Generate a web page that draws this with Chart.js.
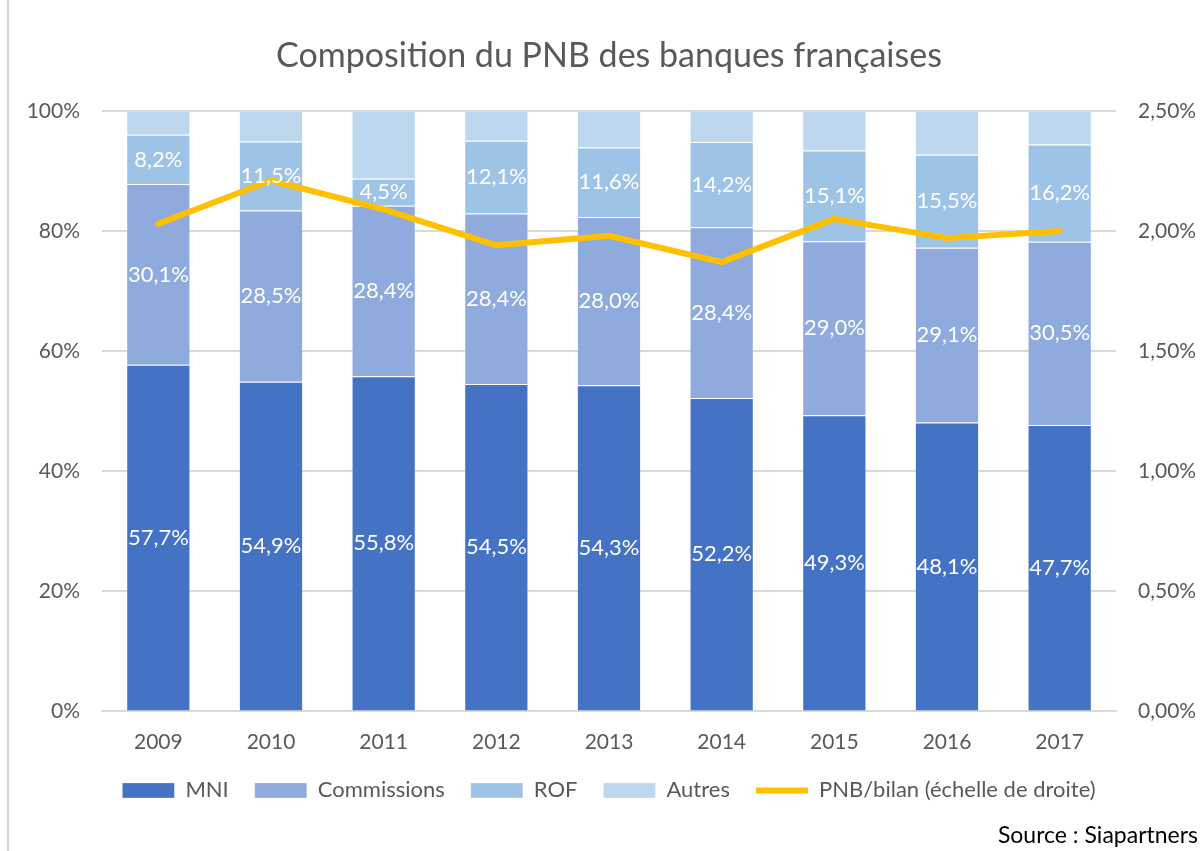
<!DOCTYPE html>
<html>
<head>
<meta charset="utf-8">
<script src="https://cdn.jsdelivr.net/npm/chart.js@4"></script>
<style>
  html, body { margin: 0; padding: 0; background: #fff; }
  #wrap { width: 1202px; height: 851px; position: relative; }
</style>
</head>
<body>
<div id="wrap"><canvas id="pnbChart"></canvas></div>
<script>
const years = ['2009', '2010', '2011', '2012', '2013', '2014', '2015', '2016', '2017'];
const mni = [57.7, 54.9, 55.8, 54.5, 54.3, 52.2, 49.3, 48.1, 47.7];
const commissions = [30.1, 28.5, 28.4, 28.4, 28.0, 28.4, 29.0, 29.1, 30.5];
const rof = [8.2, 11.5, 4.5, 12.1, 11.6, 14.2, 15.1, 15.5, 16.2];
const autres = [4.0, 5.1, 11.3, 5.0, 6.1, 5.2, 6.6, 7.3, 5.6];
const pnbBilan = [2.03, 2.21, 2.09, 1.94, 1.98, 1.87, 2.05, 1.97, 2.00];

const FONT = 'Lato, "Noto Sans", sans-serif';
const GREY = '#595959';

function frWithComma(v, digits) {
    return v.toFixed(digits).replace('.', ',') + '%';
}

// data labels in the middle of the first three bar segments
const segmentLabels = {
    id: 'segmentLabels',
    afterDatasetsDraw(chart) {
        const ctx = chart.ctx;
        ctx.save();
        ctx.font = '22px ' + FONT;
        ctx.fillStyle = '#ffffff';
        ctx.textAlign = 'center';
        ctx.textBaseline = 'middle';
        [0, 1, 2].forEach(function (di) {
            const meta = chart.getDatasetMeta(di);
            const values = chart.data.datasets[di].data;
            meta.data.forEach(function (bar, i) {
                const mid = (bar.y + bar.base) / 2;
                ctx.fillText(frWithComma(values[i], 1), bar.x, mid);
            });
        });
        ctx.restore();
    }
};

// thin grey frame line on the left edge
const frameLine = {
    id: 'frameLine',
    beforeDraw(chart) {
        const ctx = chart.ctx;
        ctx.save();
        ctx.strokeStyle = '#D9D9D9';
        ctx.lineWidth = 2;
        ctx.beginPath();
        ctx.moveTo(8, 0);
        ctx.lineTo(8, chart.height);
        ctx.stroke();
        ctx.restore();
    }
};

const pnbCtx = document.getElementById('pnbChart').getContext('2d');
const pnbChart = new Chart(pnbCtx, {
    type: 'bar',
    data: {
        labels: years,
        datasets: [
            { label: 'MNI', data: mni, backgroundColor: '#4472C4', yAxisID: 'y', order: 1, pointStyle: 'rect' },
            { label: 'Commissions', data: commissions, backgroundColor: '#8FAADC', yAxisID: 'y', order: 1, pointStyle: 'rect' },
            { label: 'ROF', data: rof, backgroundColor: '#9DC3E6', yAxisID: 'y', order: 1, pointStyle: 'rect' },
            { label: 'Autres', data: autres, backgroundColor: '#BDD7EE', yAxisID: 'y', order: 1, pointStyle: 'rect' },
            {
                type: 'line',
                label: 'PNB/bilan (échelle de droite)',
                data: pnbBilan,
                borderColor: '#FFC000',
                backgroundColor: '#FFC000',
                borderWidth: 6,
                borderCapStyle: 'round',
                borderJoinStyle: 'round',
                pointRadius: 0,
                tension: 0,
                yAxisID: 'y1',
                order: 0,
                pointStyle: 'line'
            }
        ]
    },
    options: {
        responsive: true,
        maintainAspectRatio: false,
        animation: false,
        layout: {
            padding: { left: 20, right: 4, top: 36, bottom: 2 }
        },
        datasets: {
            bar: { categoryPercentage: 1, barPercentage: 0.57, borderWidth: 1, borderColor: 'rgba(255,255,255,0.25)' }
        },
        plugins: {
            title: {
                display: true,
                text: 'Composition du PNB des banques françaises',
                color: GREY,
                font: { family: FONT, size: 34, weight: 'normal' },
                padding: { top: 0, bottom: 34 }
            },
            subtitle: {
                display: true,
                position: 'bottom',
                align: 'end',
                text: 'Source : Siapartners',
                color: '#000000',
                font: { family: FONT, size: 23 },
                padding: { top: 10, bottom: 0 }
            },
            legend: {
                position: 'bottom',
                labels: {
                    usePointStyle: true,
                    pointStyleWidth: 52,
                    boxHeight: 15,
                    padding: 26,
                    color: GREY,
                    font: { family: FONT, size: 22 },
                    sort: function (a, b) { return a.datasetIndex - b.datasetIndex; }
                }
            },
            tooltip: { enabled: false }
        },
        scales: {
            x: {
                stacked: true,
                grid: { display: false, drawTicks: false },
                border: { color: '#D9D9D9', width: 2 },
                ticks: { color: GREY, font: { family: FONT, size: 21 }, padding: 18 },
                afterFit: function (s) { s.height = 42; }
            },
            y: {
                stacked: true,
                min: 0,
                max: 100,
                ticks: {
                    stepSize: 20,
                    color: GREY,
                    font: { family: FONT, size: 21 },
                    padding: 22,
                    callback: function (v) { return v + '%'; }
                },
                grid: { color: '#D9D9D9', lineWidth: 2, drawTicks: false },
                border: { display: false },
                afterFit: function (s) { s.width = 82; }
            },
            y1: {
                position: 'right',
                min: 0,
                max: 2.5,
                ticks: {
                    stepSize: 0.5,
                    color: GREY,
                    font: { family: FONT, size: 21 },
                    padding: 22,
                    callback: function (v) { return frWithComma(v, 2); }
                },
                grid: { drawOnChartArea: false, drawTicks: false },
                border: { display: false },
                afterFit: function (s) { s.width = 82; }
            }
        }
    },
    plugins: [segmentLabels, frameLine]
});
</script>
</body>
</html>
